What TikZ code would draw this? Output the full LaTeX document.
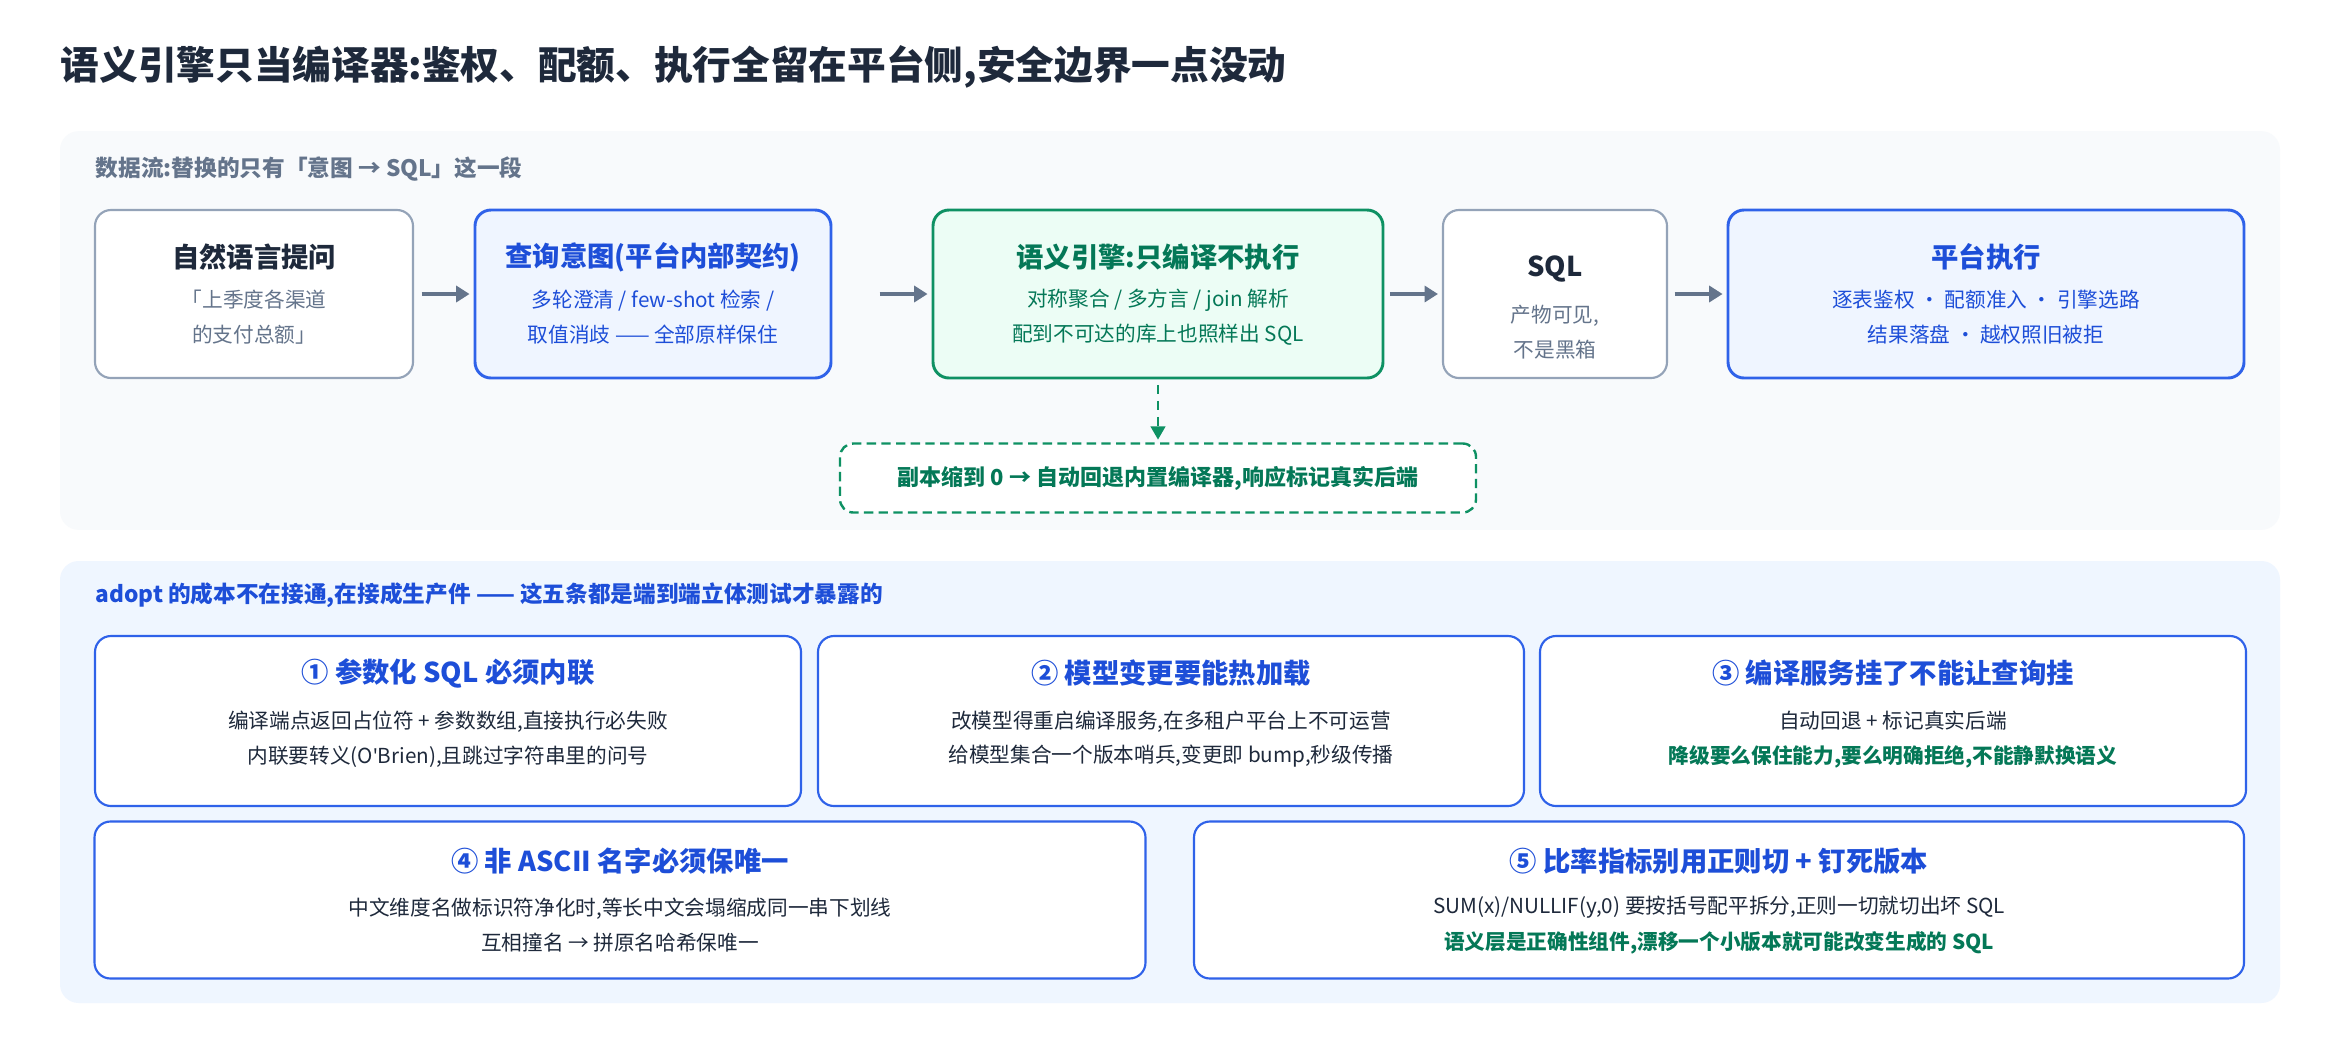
\documentclass[tikz,border=0pt]{standalone}
\usepackage{fontspec}
\setmainfont{Noto Sans CJK SC}
\newfontfamily\latinface{Noto Sans}
\usetikzlibrary{arrows.meta}
\definecolor{ink}{HTML}{1E293B}
\definecolor{mute}{HTML}{64748B}
\definecolor{edge}{HTML}{94A3B8}
\definecolor{blu}{HTML}{2F62E9}
\definecolor{bluT}{HTML}{1D4ED8}
\definecolor{bluF}{HTML}{EFF5FF}
\definecolor{grn}{HTML}{0E9163}
\definecolor{grnT}{HTML}{047857}
\definecolor{grnF}{HTML}{ECFDF5}
\definecolor{panelA}{HTML}{F8FAFC}
\definecolor{panelB}{HTML}{EFF6FF}
\tikzset{
  box/.style={draw, rounded corners=12pt, line width=1.6pt, fill=white},
  gbox/.style={box, draw=edge},
  bbox/.style={box, draw=blu, fill=bluF, line width=2.2pt},
  cbox/.style={box, draw=blu},
  ebox/.style={box, draw=grn, fill=grnF, line width=2.2pt},
  head/.style={font=\fontsize{20.5}{24}\selectfont\bfseries},
  body/.style={font=\fontsize{15.5}{26}\selectfont, align=center},
  flow/.style={-{Triangle[length=10pt,width=12pt]}, line width=2.4pt, draw=mute, shorten >=3pt},
}
\begin{document}
\begin{tikzpicture}[x=0.75pt,y=-0.75pt]
\useasboundingbox[fill=white] (0,0) rectangle (2340,1050);
\node[anchor=west, text=ink, font=\fontsize{29}{34}\selectfont\bfseries] (title) at (56,67) {语义引擎只当编译器:鉴权、配额、执行全留在平台侧,安全边界一点没动};

% top panel: data flow
\node[fill=panelA, rounded corners=14pt, minimum width=1665pt, minimum height=299pt] (top) at (1170,330.5) {};
\node[anchor=west, text=mute, font=\fontsize{17}{20}\selectfont\bfseries] (toplab) at (91,169) {数据流:替换的只有「意图 → SQL」这一段};

\node[gbox, minimum width=238.5pt, minimum height=126pt] (ask) at (254,294) {};
\node[bbox, minimum width=267pt, minimum height=126pt] (intent) at (653,294) {};
\node[ebox, minimum width=337.5pt, minimum height=126pt] (engine) at (1158,294) {};
\node[gbox, minimum width=168pt, minimum height=126pt] (sql) at (1555,294) {};
\node[bbox, minimum width=387pt, minimum height=126pt] (exec) at (1986,294) {};

\node[head, text=ink] (askH) at (254,257) {自然语言提问};
\node[body, text=mute] (askB) at (254,317) {「上季度各渠道\\的支付总额」};
\node[head, text=bluT] (intentH) at (653,257) {查询意图(平台内部契约)};
\node[body, text=bluT] (intentB) at (653,317) {多轮澄清 / few-shot 检索 /\\取值消歧 —— 全部原样保住};
\node[head, text=grnT] (engineH) at (1158,257) {语义引擎:只编译不执行};
\node[body, text=grnT] (engineB) at (1158,317) {对称聚合 / 多方言 / join 解析\\配到不可达的库上也照样出 SQL};
\node[head, text=ink] (sqlH) at (1555,269) {SQL};
\node[body, text=mute] (sqlB) at (1555,332) {产物可见,\\不是黑箱};
\node[head, text=bluT] (execH) at (1986,257) {平台执行};
\node[body, text=bluT] (execB) at (1986,317) {逐表鉴权 · 配额准入 · 引擎选路\\结果落盘 · 越权照旧被拒};

\draw[flow] ([xshift=-39pt]intent.west) -- (intent.west);
\draw[flow] ([xshift=-39pt]engine.west) -- (engine.west);
\draw[flow] ([xshift=-39pt]sql.west) -- (sql.west);
\draw[flow] ([xshift=-39pt]exec.west) -- (exec.west);

\node[box, draw=grn, line width=1.8pt, dash pattern=on 7pt off 4pt, rounded corners=10pt, minimum width=477pt, minimum height=51.75pt, text=grnT, font=\fontsize{16.5}{20}\selectfont\bfseries] (fallback) at (1158,478) {副本缩到 0 → 自动回退内置编译器,响应标记真实后端};
\draw[-{Triangle[length=10pt,width=11pt]}, line width=1.8pt, draw=grn, dash pattern=on 7pt off 5pt, shorten <=4pt, shorten >=2pt] (engine) -- (fallback);

% bottom panel: five lessons
\node[fill=panelB, rounded corners=14pt, minimum width=1665pt, minimum height=331.5pt] (bot) at (1170,782) {};
\node[anchor=west, text=bluT, font=\fontsize{17}{20}\selectfont\bfseries] (botlab) at (91,595) {adopt 的成本不在接通,在接成生产件 —— 这五条都是端到端立体测试才暴露的};

\node[cbox, minimum width=529.5pt, minimum height=127.5pt] (c1) at (448,721) {};
\node[cbox, minimum width=529.5pt, minimum height=127.5pt] (c2) at (1171,721) {};
\node[cbox, minimum width=529.5pt, minimum height=127.5pt] (c3) at (1893,721) {};
\node[cbox, minimum width=788.25pt, minimum height=117.75pt] (c4) at (620,900) {};
\node[cbox, minimum width=787.5pt, minimum height=117.75pt] (c5) at (1719,900) {};

\node[head, text=bluT] (c1H) at (448,673) {① 参数化 SQL 必须内联};
\node[body, text=ink] (c1B) at (448,739) {编译端点返回占位符 + 参数数组,直接执行必失败\\内联要转义(O{\latinface\char"0027}Brien),且跳过字符串里的问号};
\node[head, text=bluT] (c2H) at (1171,673) {② 模型变更要能热加载};
\node[body, text=ink] (c2B) at (1171,739) {改模型得重启编译服务,在多租户平台上不可运营\\给模型集合一个版本哨兵,变更即 bump,秒级传播};
\node[head, text=bluT] (c3H) at (1893,673) {③ 编译服务挂了不能让查询挂};
\node[body, text=ink] (c3B) at (1893,721) {自动回退 + 标记真实后端};
\node[body, text=grnT, font=\fontsize{15.5}{26}\selectfont\bfseries] (c3C) at (1893,757) {降级要么保住能力,要么明确拒绝,不能静默换语义};
\node[head, text=bluT] (c4H) at (620,861) {④ 非 ASCII 名字必须保唯一};
\node[body, text=ink] (c4B) at (620,925) {中文维度名做标识符净化时,等长中文会塌缩成同一串下划线\\互相撞名 → 拼原名哈希保唯一};
\node[head, text=bluT] (c5H) at (1719,861) {⑤ 比率指标别用正则切 + 钉死版本};
\node[body, text=ink] (c5B) at (1719,907) {SUM(x)/NULLIF(y,0) 要按括号配平拆分,正则一切就切出坏 SQL};
\node[body, text=grnT, font=\fontsize{15.5}{26}\selectfont\bfseries] (c5C) at (1719,943) {语义层是正确性组件,漂移一个小版本就可能改变生成的 SQL};
\end{tikzpicture}
\end{document}
